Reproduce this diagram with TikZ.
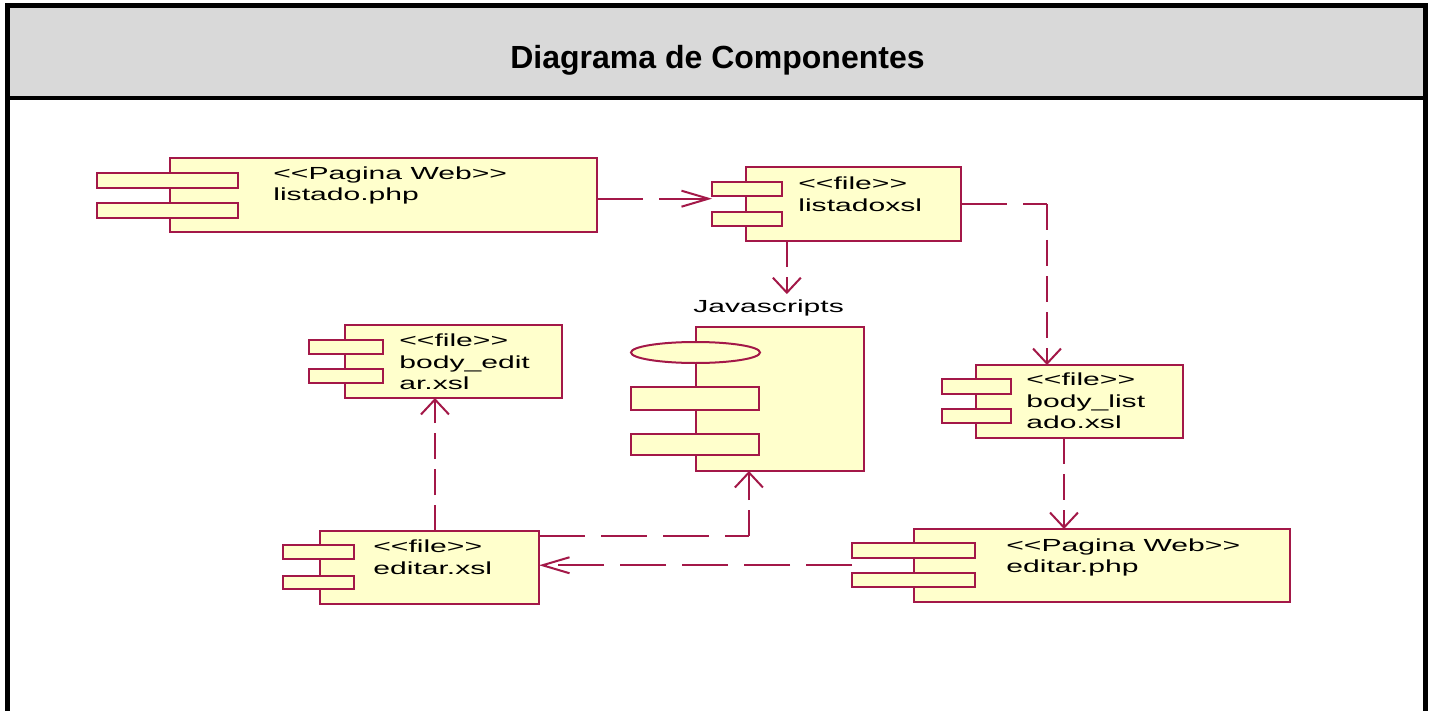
\documentclass[tikz,border=0pt]{standalone}
\usepackage{fontspec}
\newfontfamily\umlfont{Liberation Sans}
\usetikzlibrary{arrows.meta,calc,fit}
\definecolor{umlline}{RGB}{163,24,72}
\definecolor{umlfill}{RGB}{255,255,204}
\definecolor{headgray}{RGB}{217,217,217}
\begin{document}
\begin{tikzpicture}[x=1pt,y=-1pt,
  compbody/.style={draw=umlline, fill=umlfill, line width=2pt, inner sep=0pt, outer sep=0pt, rectangle},
  comptab/.style={draw=umlline, fill=umlfill, line width=2pt, inner sep=0pt, outer sep=0pt, rectangle},
  lbl/.style={anchor=base west, inner sep=0pt, xscale=1.72, font=\umlfont\fontsize{17.5}{20}\selectfont},
  deph/.style={draw=umlline, line width=2pt, dash pattern=on 46pt off 16pt},
  depv/.style={draw=umlline, line width=2pt, dash pattern=on 26pt off 10pt},
  tiph/.style={-{Straight Barb[length=27pt,width=16pt]}},
  tipv/.style={-{Straight Barb[length=15pt,width=28pt]}},
]
\useasboundingbox (0,0) rectangle (1434,711);

% frame and header band
\fill[headgray] (7.5,6) rectangle (1425,98);
\draw[line width=5pt, line join=miter] (7.5,730) -- (7.5,6) -- (1425,6) -- (1425,730);
\draw[line width=4.5pt] (7.5,98) -- (1425,98);
\node[anchor=base, inner sep=0pt, font=\umlfont\bfseries\fontsize{32}{36}\selectfont] (title) at (717.5,68.5) {Diagrama de Componentes};

% listado.php
\node[compbody, fit={(170,158)(597,232)}] (lphp) {};
\node[comptab, fit={(97,173)(238,188)}] (lphp-t1) {};
\node[comptab, fit={(97,203)(238,218)}] (lphp-t2) {};
\node[lbl] (lphp-s) at (273,180) {<<Pagina Web>>};
\node[lbl] (lphp-n) at (273,201) {listado.php};

% listado.xsl
\node[compbody, fit={(746,167)(961,241)}] (lxsl) {};
\node[comptab, fit={(712,182)(782,196)}] (lxsl-t1) {};
\node[comptab, fit={(712,212)(782,226)}] (lxsl-t2) {};
\node[lbl] (lxsl-s) at (798,189.5) {<<file>>};
\node[lbl] (lxsl-n) at (798,211.5) {listadoxsl};

% body_editar.xsl
\node[compbody, fit={(345,325)(562,398)}] (bedit) {};
\node[comptab, fit={(309,340)(383,354)}] (bedit-t1) {};
\node[comptab, fit={(309,369)(383,383)}] (bedit-t2) {};
\node[lbl] (bedit-s) at (399,346) {<<file>>};
\node[lbl] (bedit-n1) at (399,368) {body\_edit};
\node[lbl] (bedit-n2) at (399,389) {ar.xsl};

% Javascripts
\node[lbl] (jslabel) at (693,312) {Javascripts};
\node[compbody, fit={(696,327)(864,471)}] (js) {};
\filldraw[comptab] (695.5,352.5) ellipse [x radius=64.5, y radius=10.5];
\node[comptab, fit={(631,387)(759,410)}] (js-t1) {};
\node[comptab, fit={(631,434)(759,455)}] (js-t2) {};

% body_listado.xsl
\node[compbody, fit={(976,365)(1183,438)}] (blst) {};
\node[comptab, fit={(942,379)(1011,394)}] (blst-t1) {};
\node[comptab, fit={(942,409)(1011,423)}] (blst-t2) {};
\node[lbl] (blst-s) at (1026,385.5) {<<file>>};
\node[lbl] (blst-n1) at (1026,407.5) {body\_list};
\node[lbl] (blst-n2) at (1026,428.5) {ado.xsl};

% editar.xsl
\node[compbody, fit={(320,531)(539,604)}] (exsl) {};
\node[comptab, fit={(283,545)(354,559)}] (exsl-t1) {};
\node[comptab, fit={(283,576)(354,589)}] (exsl-t2) {};
\node[lbl] (exsl-s) at (373,552) {<<file>>};
\node[lbl] (exsl-n) at (373,574) {editar.xsl};

% editar.php
\node[compbody, fit={(914,529)(1290,602)}] (ephp) {};
\node[comptab, fit={(852,543)(975,558)}] (ephp-t1) {};
\node[comptab, fit={(852,573)(975,587)}] (ephp-t2) {};
\node[lbl] (ephp-s) at (1006,551.5) {<<Pagina Web>>};
\node[lbl] (ephp-n) at (1006,572) {editar.php};

% connection points on the component borders
\path ($(lphp.north east)!0.55!(lphp.south east)$) coordinate (lphp-out);
\path ($(blst.north west)!0.343!(blst.north east)$) coordinate (blst-in);
\path ($(lxsl.south west)!0.19!(lxsl.south east)$) coordinate (lxsl-out);
\path ($(blst.south west)!0.425!(blst.south east)$) coordinate (blst-out);
\path ($(exsl.north east)!0.07!(exsl.south east)$) coordinate (exsl-out);
\path ($(js.south west)!0.315!(js.south east)$) coordinate (js-in);
\path ($(exsl.north west)!0.525!(exsl.north east)$) coordinate (exsl-top);
\path ($(ephp-t1.west)!0.5!(ephp-t2.west)$) coordinate (ephp-out);

% dependencies
\draw[deph,tiph] (lphp-out) -- (lphp-out -| lxsl-t1.west);
\draw[deph] (lxsl.east) -- (lxsl.east -| blst-in) coordinate (k1);
\draw[depv,tipv] (k1) -- (blst-in);
\draw[depv,tipv,shorten >=5pt] (lxsl-out) -- (lxsl-out |- jslabel.north);
\draw[depv,tipv] (blst-out) -- (blst-out |- ephp.north);
\draw[deph,tiph] (ephp-out) -- (ephp-out -| exsl.east);
\draw[deph] (exsl-out) -- (exsl-out -| js-in) coordinate (k2);
\draw[depv,tipv] (k2) -- (js-in);
\draw[depv,tipv] (exsl-top) -- (exsl-top |- bedit.south);
\end{tikzpicture}
\end{document}
